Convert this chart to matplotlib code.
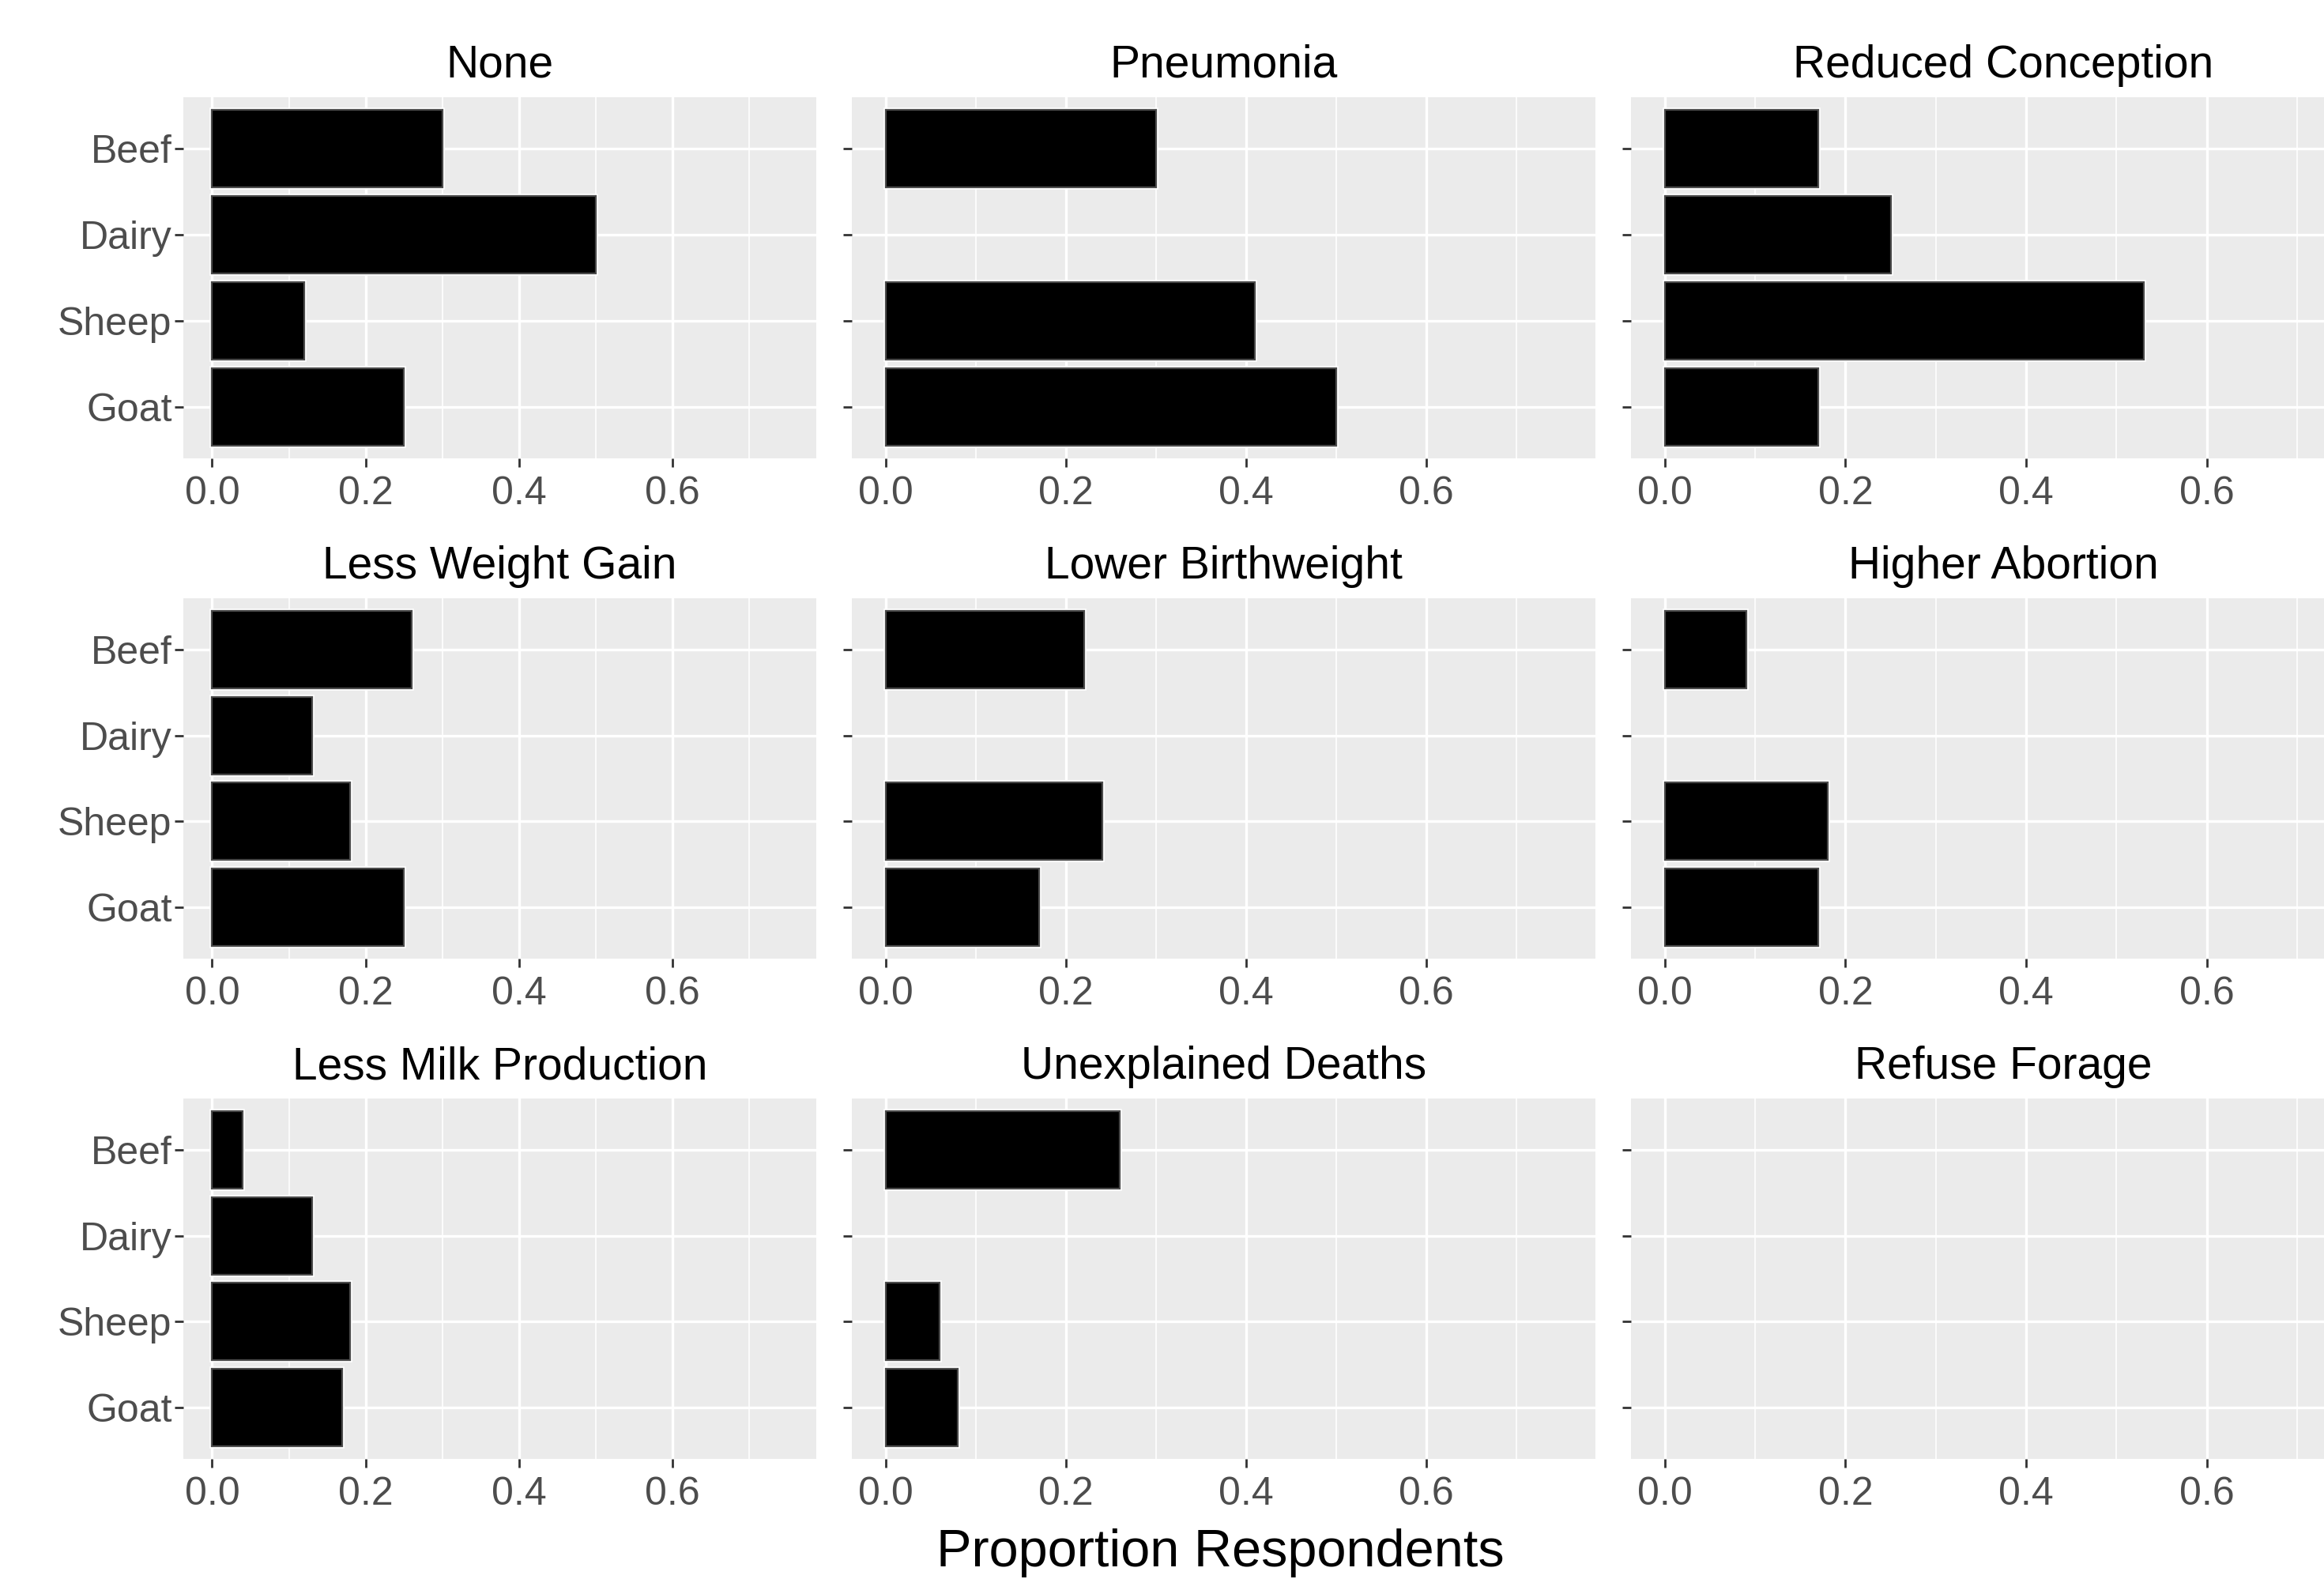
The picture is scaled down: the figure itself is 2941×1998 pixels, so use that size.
import matplotlib
matplotlib.use("Agg")
import matplotlib.pyplot as plt
import numpy as np

plt.rcParams['font.family'] = ['Liberation Sans', 'DejaVu Sans']

# ---- data ----
species = ["Beef", "Dairy", "Sheep", "Goat"]
panel_titles = ["None", "Pneumonia", "Reduced Conception",
                "Less Weight Gain", "Lower Birthweight", "Higher Abortion",
                "Less Milk Production", "Unexplained Deaths", "Refuse Forage"]
none_vals = [0.30, 0.50, 0.12, 0.25]
pneumonia = [0.30, 0.00, 0.41, 0.50]
reduced_conception = [0.17, 0.25, 0.53, 0.17]
less_weight_gain = [0.26, 0.13, 0.18, 0.25]
lower_birthweight = [0.22, 0.00, 0.24, 0.17]
higher_abortion = [0.09, 0.00, 0.18, 0.17]
less_milk = [0.04, 0.13, 0.18, 0.17]
unexplained_deaths = [0.26, 0.00, 0.06, 0.08]
refuse_forage = [0.00, 0.00, 0.00, 0.00]
x_ticks = [0.0, 0.2, 0.4, 0.6]
x_ticklabels = ["0.0", "0.2", "0.4", "0.6"]
x_label = "Proportion Respondents"

series = [none_vals, pneumonia, reduced_conception,
          less_weight_gain, lower_birthweight, higher_abortion,
          less_milk, unexplained_deaths, refuse_forage]

W, H = 2941, 1998
DPI = 200
fig = plt.figure(figsize=(W / DPI, H / DPI), dpi=DPI)

col_px = [(232, 1033), (1078, 2019), (2064, 3007)]
row_px = [(123, 580), (757, 1213), (1390, 1846)]

ypos = np.arange(len(species))[::-1] + 1  # Beef top

for i, (title, vals) in enumerate(zip(panel_titles, series)):
    r, c = divmod(i, 3)
    x0, x1 = col_px[c]
    yt, yb = row_px[r]
    ax = fig.add_axes([x0 / W, 1 - yb / H, (x1 - x0) / W, (yb - yt) / H])
    ax.set_facecolor('#EBEBEB')
    ax.set_xlim(-0.0375, 0.7875)
    ax.set_ylim(0.4, 4.6)
    # grid
    for mx in [0.1, 0.3, 0.5, 0.7]:
        ax.axvline(mx, color='white', lw=0.6, zorder=0.5)
    for mx in x_ticks:
        ax.axvline(mx, color='white', lw=1.2, zorder=0.6)
    for yy in ypos:
        ax.axhline(yy, color='white', lw=1.2, zorder=0.6)
    v = np.array(vals)
    mask = v > 0
    ax.barh(ypos[mask], v[mask], height=0.9, color='black',
            edgecolor='white', linewidth=2.0, zorder=2)
    ax.barh(ypos[mask], v[mask], height=0.9, color='black',
            edgecolor='#4a4a4a', linewidth=0.8, zorder=3)
    for s in ax.spines.values():
        s.set_visible(False)
    ax.set_xticks(x_ticks)
    ax.set_xticklabels(x_ticklabels)
    ax.set_yticks(ypos)
    if c == 0:
        ax.set_yticklabels(species)
    else:
        ax.set_yticklabels([])
    ax.tick_params(axis='both', colors='#333333', length=4, width=1.0,
                   labelcolor='#4D4D4D', labelsize=18)
    ax.tick_params(axis='x', pad=4)
    ax.tick_params(axis='y', pad=1.2)
    ax.set_title(title, fontsize=20.5, color='black', pad=9)

fig.text(1544 / W, 1 - 1982 / H, x_label, fontsize=24, ha='center',
         va='baseline', color='black')

fig.savefig('out.png', dpi=DPI)
